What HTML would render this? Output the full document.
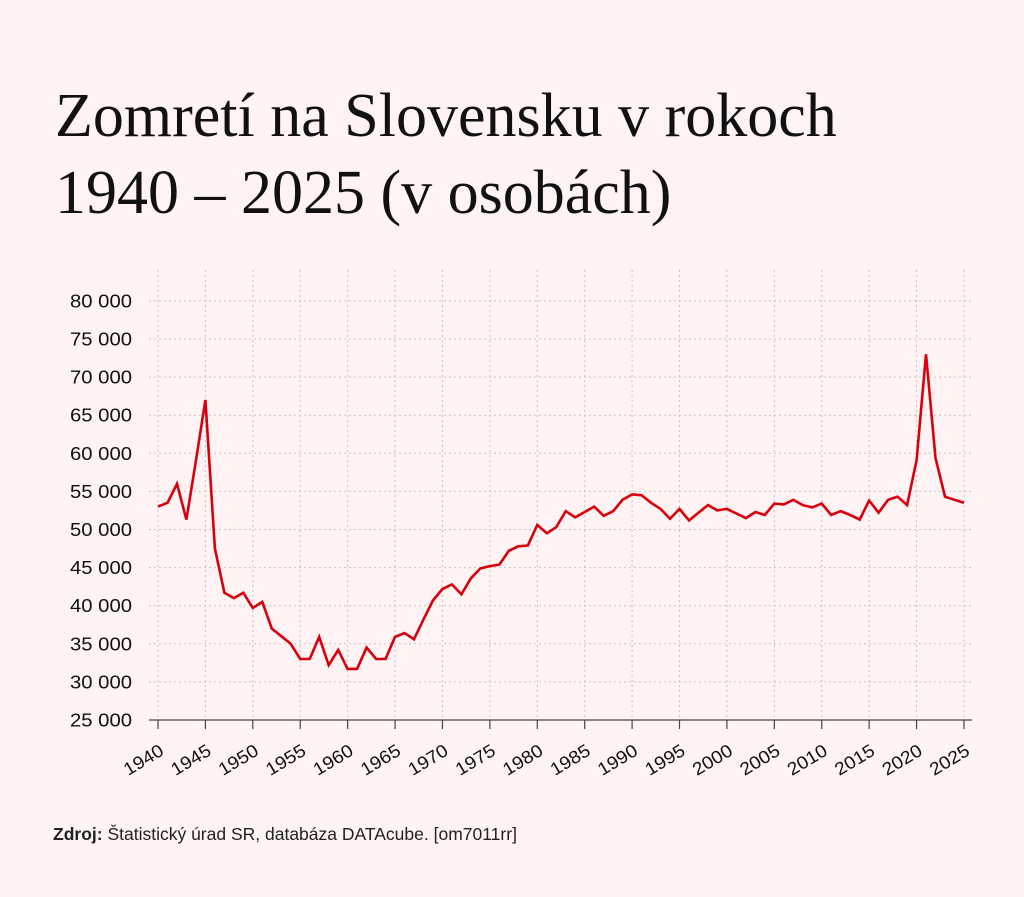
<!DOCTYPE html>
<html><head><meta charset="utf-8"><style>
html,body{margin:0;padding:0;background:#fff3f3;}
body{width:1024px;height:897px;position:relative;overflow:hidden;}
.t{position:absolute;left:55px;font-family:"Liberation Serif",serif;font-size:62px;color:#111;white-space:nowrap;line-height:1;}
.src{position:absolute;left:53px;top:824px;font-family:"Liberation Sans",sans-serif;font-size:17.5px;color:#222;}
</style></head><body>
<div class="t" style="top:85px">Zomretí na Slovensku v rokoch</div>
<div class="t" style="top:162px">1940 – 2025 (v osobách)</div>
<svg id="s" width="1024" height="897" style="position:absolute;left:0;top:0" xmlns="http://www.w3.org/2000/svg"></svg>
<div class="src"><b>Zdroj:</b> Štatistický úrad SR, databáza DATAcube. [om7011rr]</div>
<script>
var d=[53000,53500,56000,51300,59000,67000,47500,41700,41000,41700,39700,40500,37000,36000,35000,33000,33000,35900,32200,34200,31700,31700,34500,33000,33000,35900,36400,35600,38200,40700,42200,42800,41500,43600,44900,45200,45400,47200,47800,47900,50600,49500,50300,52400,51600,52300,53000,51800,52400,53900,54600,54500,53500,52700,51400,52700,51200,52200,53200,52500,52700,52100,51500,52300,51900,53400,53300,53900,53200,52900,53400,51900,52400,51900,51300,53800,52200,53900,54300,53200,59100,73000,59400,54300,53900,53500];
function X(y){return 158+(y-1940)*9.482;}
function Y(v){return 720-(v-25000)/5000*38.1;}
var h='';
for(var y=1940;y<=2025;y+=5){var x=X(y);h+='<line x1="'+x+'" y1="270" x2="'+x+'" y2="720" stroke="#c4c4c4" stroke-width="1" stroke-dasharray="2,3"/>';
h+='<line x1="'+x+'" y1="720" x2="'+x+'" y2="729" stroke="#444" stroke-width="1.2"/>';
h+='<text transform="translate('+(x+7)+',754) rotate(-31)" text-anchor="end" textLength="43" lengthAdjust="spacingAndGlyphs" font-family="Liberation Sans,sans-serif" font-size="18" fill="#111">'+y+'</text>';}
for(var v=25000;v<=80000;v+=5000){var yy=Y(v);if(v>25000)h+='<line x1="149" y1="'+yy+'" x2="972" y2="'+yy+'" stroke="#c4c4c4" stroke-width="1" stroke-dasharray="2,3"/>';
h+='<text x="70" y="'+(yy+6.5)+'" textLength="62" lengthAdjust="spacingAndGlyphs" font-family="Liberation Sans,sans-serif" font-size="18" fill="#111">'+(v/1000)+' 000</text>';}
h+='<line x1="149" y1="720" x2="972" y2="720" stroke="#444" stroke-width="1.2"/>';
var p=d.map(function(v,i){return X(1940+i).toFixed(1)+','+Y(v).toFixed(1)}).join(' ');
h+='<polyline points="'+p+'" fill="none" stroke="#d9000d" stroke-width="2.6" stroke-linejoin="miter"/>';
document.getElementById('s').innerHTML=h;
</script>
</body></html>
